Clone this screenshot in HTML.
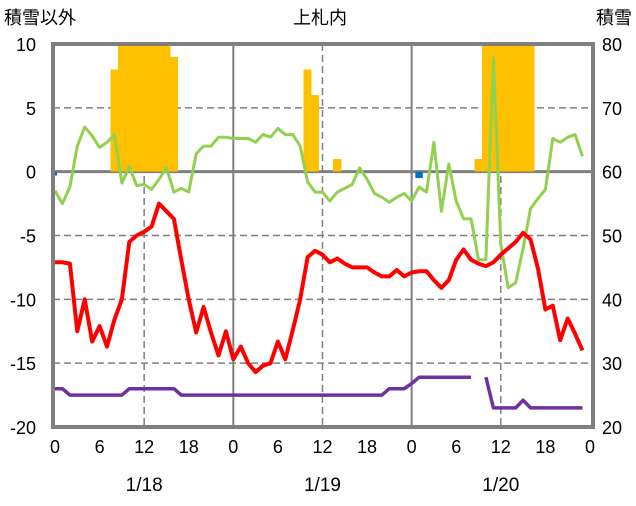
<!DOCTYPE html>
<html><head><meta charset="utf-8"><style>
body{margin:0;background:#fff;}
svg text{font-family:"Liberation Sans","Noto Sans CJK JP",sans-serif;}
</style></head><body>
<svg id="chart" width="636" height="501" xmlns="http://www.w3.org/2000/svg">
<text x="4" y="24" font-size="18" fill="#000">積雪以外</text>
<text x="320" y="24" font-size="18" text-anchor="middle" fill="#000">上札内</text>
<text x="632" y="24" font-size="18" text-anchor="end" fill="#000">積雪</text>
<g id="grid"></g><g id="bars"></g><g id="lines"></g><g id="axes"></g>
</svg>
<script>
const hours = Array.from({length:72},(_,i)=>i);
const temperature=[-7.1,-7.1,-7.2,-12.5,-10.0,-13.3,-12.1,-13.7,-11.6,-10.0,-5.5,-5.0,-4.7,-4.3,-2.5,-3.1,-3.7,-6.9,-10.0,-12.6,-10.6,-12.6,-14.4,-12.5,-14.7,-13.7,-15.0,-15.7,-15.2,-15.0,-13.3,-14.7,-12.4,-10.0,-6.7,-6.2,-6.5,-7.1,-6.8,-7.2,-7.5,-7.5,-7.5,-7.9,-8.2,-8.2,-7.7,-8.2,-7.9,-7.8,-7.8,-8.5,-9.1,-8.5,-6.9,-6.1,-6.9,-7.2,-7.4,-7.1,-6.5,-6.0,-5.5,-4.8,-5.3,-7.6,-10.8,-10.5,-13.2,-11.5,-12.7,-14.0];
const greenSeries=[-1.5,-2.5,-1.2,2.0,3.5,2.8,1.9,2.3,2.9,-0.9,0.4,-1.1,-1.0,-1.4,-0.6,0.3,-1.6,-1.3,-1.6,1.4,2.0,2.0,2.7,2.7,2.6,2.6,2.6,2.3,2.9,2.7,3.4,2.9,2.9,2.0,-0.8,-1.6,-1.6,-2.3,-1.6,-1.3,-1.0,0.3,-0.6,-1.7,-2.0,-2.4,-2.0,-1.7,-2.3,-1.2,-1.6,2.3,-3.1,0.6,-2.3,-3.7,-3.7,-6.9,-6.9,8.9,-5.7,-9.1,-8.7,-6.0,-2.9,-2.1,-1.4,2.6,2.3,2.7,2.9,1.2];
const purpleSeries=[-17.0,-17.0,-17.5,-17.5,-17.5,-17.5,-17.5,-17.5,-17.5,-17.5,-17.0,-17.0,-17.0,-17.0,-17.0,-17.0,-17.0,-17.5,-17.5,-17.5,-17.5,-17.5,-17.5,-17.5,-17.5,-17.5,-17.5,-17.5,-17.5,-17.5,-17.5,-17.5,-17.5,-17.5,-17.5,-17.5,-17.5,-17.5,-17.5,-17.5,-17.5,-17.5,-17.5,-17.5,-17.5,-17.0,-17.0,-17.0,-16.6,-16.1,-16.1,-16.1,-16.1,-16.1,-16.1,-16.1,-16.1,null,-16.1,-18.5,-18.5,-18.5,-18.5,-17.9,-18.5,-18.5,-18.5,-18.5,-18.5,-18.5,-18.5,-18.5];
const snowBarHours=[8,9,10,11,12,13,14,15,16,34,35,38,57,58,59,60,61,62,63,64];
const snowBarValues=[8,12,12,12,12,12,12,12,9,8,6,1,1,12,12,12,12,12,12,12];
const blueBarHours=[0,49];
const blueBarValues=[-0.3,-0.5];
const leftTicks=[10,5,0,-5,-10,-15,-20];
const rightTicks=[80,70,60,50,40,30,20];
const hourTickLabels=["0","6","12","18","0","6","12","18","0","6","12","18","0"];
const dayLabels=["1/18","1/19","1/20"];

const NS="http://www.w3.org/2000/svg";
const X0=55,PX=7.43,TOP=44,BOT=427,L=53,R=593;
const x=h=>X0+h*PX;
const y=v=>TOP+(10-v)*(BOT-TOP)/30;
function mk(tag,attrs,parent){const e=document.createElementNS(NS,tag);for(const k in attrs)e.setAttribute(k,attrs[k]);parent.appendChild(e);return e;}
const grid=document.getElementById('grid'),bars=document.getElementById('bars'),lines=document.getElementById('lines'),axes=document.getElementById('axes');
leftTicks.forEach(v=>{if(v===10||v===-20||v===0)return;const g=mk('line',{x1:L,x2:R,y1:y(v),y2:y(v),stroke:'#7f7f7f','stroke-width':1.5,'stroke-dasharray':'7,4'},grid);

});
[12,36,60].forEach(h=>{const g=mk('line',{x1:x(h),x2:x(h),y1:TOP,y2:BOT,stroke:'#7f7f7f','stroke-width':1.5,'stroke-dasharray':'7,4'},grid);

});
[24,48].forEach(h=>{const g=mk('line',{x1:x(h),x2:x(h),y1:TOP,y2:BOT,stroke:'#7f7f7f','stroke-width':2},grid);

});
const clipT=v=>Math.min(v,10);
snowBarHours.forEach((h,i)=>{const v=clipT(snowBarValues[i]);const r=mk('rect',{x:x(h)-PX/2-0.4,y:y(v),width:PX+0.8,height:y(0)-y(v),fill:'#ffc000','shape-rendering':'crispEdges'},bars);

});
blueBarHours.forEach((h,i)=>{const v=blueBarValues[i];const r=mk('rect',{x:x(h)-PX/2+ (h===0?PX/2-2:0),y:y(0),width:h===0?4:PX,height:y(v)-y(0),fill:'#0070c0'},bars);

});
const z=mk('line',{x1:L,x2:R,y1:y(0),y2:y(0),stroke:'#7f7f7f','stroke-width':3},grid);


function path(arr,color,w,name){let d='',pen=false;arr.forEach((v,i)=>{if(v===null){pen=false;return;}d+=(pen?'L':'M')+x(hours[i]).toFixed(1)+','+y(v).toFixed(1);pen=true;});
const p=mk('path',{d:d,fill:'none',stroke:color,'stroke-width':w,'stroke-linejoin':'round'},lines);

}
path(greenSeries,'#92d050',3,'green-line');
path(temperature,'#ff0000',4,'temperature-line');
path(purpleSeries,'#7030a0',3.5,'purple-line');
const f=mk('rect',{x:L,y:TOP,width:R-L,height:BOT-TOP,fill:'none',stroke:'#7f7f7f','stroke-width':4},axes);


leftTicks.forEach(v=>{const t=mk('text',{x:36,y:y(v)+7,'font-size':18,'text-anchor':'end'},axes);t.textContent=v;

});
rightTicks.forEach((v,i)=>{const t=mk('text',{x:612,y:y(leftTicks[i])+7,'font-size':18,'text-anchor':'middle'},axes);t.textContent=v;

});
hourTickLabels.forEach((s,i)=>{const t=mk('text',{x:x(i*6),y:453,'font-size':18,'text-anchor':'middle'},axes);t.textContent=s;

});
dayLabels.forEach((s,i)=>{const t=mk('text',{x:x(12+24*i),y:491,'font-size':19,'text-anchor':'middle','font-family':'Liberation Serif, serif'},axes);t.textContent=s;

});
</script>
</body></html>
